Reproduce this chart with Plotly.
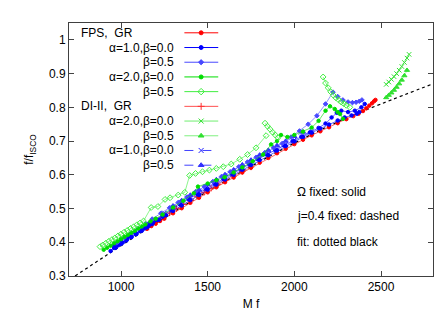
import plotly.graph_objects as go

# ---------------- data ----------------
fit_mf = [735, 900, 1100, 1300, 1500, 1700, 1900, 2100, 2300, 2500, 2806]
fit_f = [0.300, 0.356, 0.423, 0.488, 0.551, 0.610, 0.667, 0.720, 0.768, 0.810, 0.871]

# FPS, GR (solid, red filled circles)
fps_gr_mf = [1150, 1175, 1200, 1225, 1250, 1300, 1350, 1400, 1450, 1500, 1550, 1600, 1650, 1700,
             1750, 1800, 1850, 1900, 1950, 2000, 2050, 2100, 2150, 2200, 2250, 2300, 2340, 2370,
             2396, 2415, 2432, 2448, 2460, 2468]
fps_gr_f = [0.440, 0.448, 0.455, 0.463, 0.470, 0.486, 0.501, 0.517, 0.532, 0.548, 0.563, 0.578,
            0.592, 0.607, 0.621, 0.636, 0.650, 0.664, 0.677, 0.691, 0.704, 0.717, 0.729, 0.741,
            0.753, 0.765, 0.774, 0.781, 0.789, 0.797, 0.805, 0.812, 0.818, 0.822]

# FPS, alpha=1, beta=0 (solid, blue filled circles) - three sequences
fps_a1b0_mf = [940, 970, 1000, 1030, 1060, 1090, 1120, 1150, 1180, 1220, 1260, 1300, 1350, 1400,
               1450, 1500, 1550, 1600, 1650, 1700, 1750, 1800, 1850, 1900, 1950, 2000, 2050, 2100,
               2150, 2200, 2250, 2290, 2330, 2360, 2375, None,
               960, 985, 1010, 1035, 1060, 1085, 1110, 1135, 1160, 1185, 1210, 1240, None,
               960, 1000, 1040, 1080, 1120, 1160, 1200, 1240, 1290, 1340, 1390, 1440, 1490, 1540,
               1590, 1640, 1690, 1740, 1790, 1840, 1890, 1940, 1990, 2040, 2090, 2140, 2180, 2215,
               2245, 2271, 2310, 2349, 2387, 2406]
fps_a1b0_f = [0.374, 0.384, 0.395, 0.405, 0.415, 0.425, 0.434, 0.444, 0.454, 0.467, 0.480, 0.493,
              0.509, 0.525, 0.540, 0.556, 0.571, 0.586, 0.600, 0.615, 0.629, 0.644, 0.658, 0.672,
              0.685, 0.699, 0.712, 0.725, 0.737, 0.749, 0.761, 0.770, 0.776, 0.781, 0.786, None,
              0.383, 0.391, 0.399, 0.408, 0.416, 0.424, 0.433, 0.441, 0.449, 0.458, 0.466, 0.476, None,
              0.390, 0.403, 0.416, 0.429, 0.442, 0.455, 0.467, 0.480, 0.496, 0.512, 0.528, 0.543,
              0.558, 0.573, 0.588, 0.602, 0.617, 0.631, 0.646, 0.660, 0.673, 0.687, 0.700, 0.713,
              0.726, 0.739, 0.752, 0.770, 0.784, 0.790, 0.786, 0.790, 0.800, 0.810]

# FPS, alpha=1, beta=0.5 (solid, light blue diamonds)
fps_a1b5_mf = [980, 1020, 1060, 1100, 1140, 1180, 1230, 1280, 1330, 1380, 1430, 1480, 1530, 1580,
               1630, 1680, 1730, 1780, 1830, 1880, 1930, 1981, 2030, 2080, 2130, 2180, 2223, 2250,
               2280, 2310, 2335, 2356, 2375, 2390]
fps_a1b5_f = [0.400, 0.414, 0.428, 0.441, 0.455, 0.469, 0.486, 0.502, 0.518, 0.534, 0.550, 0.565,
              0.580, 0.595, 0.609, 0.624, 0.638, 0.652, 0.666, 0.680, 0.693, 0.712, 0.730, 0.750,
              0.775, 0.810, 0.845, 0.832, 0.822, 0.816, 0.814, 0.815, 0.818, 0.822]

# FPS, alpha=2, beta=0 (solid, green filled circles)
fps_a2b0_mf = [900, 920, 940, 960, 980, 1000, 1020, 1040, 1060, 1080, 1100, 1120, 1140, 1170, 1200,
               1240, 1300, 1360, 1420, 1444, 1500, 1550, 1598, 1650, 1700, 1760, 1820, 1866, 1900,
               1923, 1960, 2000, 2050, 2100, 2140, 2180, 2206, 2233, 2250, 2264, 2281]
fps_a2b0_f = [0.378, 0.384, 0.390, 0.397, 0.403, 0.409, 0.416, 0.422, 0.428, 0.434, 0.441, 0.447,
              0.453, 0.462, 0.470, 0.482, 0.503, 0.523, 0.545, 0.565, 0.574, 0.584, 0.593, 0.607,
              0.622, 0.640, 0.660, 0.690, 0.700, 0.718, 0.712, 0.718, 0.728, 0.740, 0.760, 0.790,
              0.803, 0.795, 0.786, 0.780, 0.766]

# FPS, alpha=2, beta=0.5 (solid, light green open diamonds)
fps_a2b5_mf = [879, 895, 912, 930, 948, 965, 983, 1000, 1018, 1036, 1055, 1073, 1092, 1110, 1130,
               1174, 1213, 1254, 1283, 1330, 1368, 1396, 1430, 1470, 1510, 1550, 1590, 1636, 1685,
               1730, 1779, 1837, None,
               1831, 1845, 1860, 1875, 1890, 1906, None,
               2166, 2180, 2195, 2210, 2225, 2240, 2255, 2270, 2285, 2300, 2320]
fps_a2b5_f = [0.387, 0.392, 0.397, 0.403, 0.408, 0.413, 0.419, 0.424, 0.430, 0.435, 0.441, 0.446,
              0.452, 0.457, 0.463, 0.503, 0.506, 0.527, 0.532, 0.540, 0.548, 0.598, 0.604, 0.609,
              0.614, 0.619, 0.624, 0.632, 0.646, 0.660, 0.680, 0.716, None,
              0.753, 0.744, 0.735, 0.726, 0.718, 0.710, None,
              0.890, 0.872, 0.858, 0.846, 0.836, 0.828, 0.822, 0.816, 0.811, 0.806, 0.800]

# DI-II, GR (solid, red plus)
di_gr_mf = [1160, 1200, 1240, 1280, 1320, 1360, 1400, 1440, 1480, 1520, 1560, 1600, 1650, 1700, 1750]
di_gr_f = [0.445, 0.460, 0.474, 0.487, 0.500, 0.512, 0.524, 0.536, 0.548, 0.560, 0.572, 0.583,
           0.596, 0.610, 0.623]

# DI-II, alpha=2, beta=0 (solid, green x)
di_a2b0_mf = [2530, 2545, 2560, 2575, 2590, 2605, 2620, 2635, 2650, 2662]
di_a2b0_f = [0.868, 0.875, 0.883, 0.891, 0.900, 0.910, 0.921, 0.933, 0.946, 0.957]

# DI-II, alpha=2, beta=0.5 (solid, green triangles)
di_a2b5_mf = [2530, 2545, 2560, 2575, 2590, 2605, 2620, 2635, 2650]
di_a2b5_f = [0.829, 0.836, 0.843, 0.851, 0.860, 0.870, 0.881, 0.894, 0.910]

# DI-II, alpha=1, beta=0 (dashed, blue x)
di_a1b0_mf = [1250, 1300, 1350, 1400, 1450, 1500, 1550, 1600, 1650, 1700, 1750, 1800, 1850, 1900,
              1950, 2000, 2050, 2100]
di_a1b0_f = [0.487, 0.503, 0.519, 0.534, 0.549, 0.565, 0.580, 0.594, 0.608, 0.622, 0.636, 0.650,
             0.664, 0.678, 0.691, 0.704, 0.717, 0.730]

# DI-II, alpha=1, beta=0.5 (dashed, blue triangles)
di_a1b5_mf = [1300, 1350, 1400, 1450, 1500, 1550, 1600, 1650, 1700, 1750, 1800, 1850, 1900, 1950,
              2000, 2050]
di_a1b5_f = [0.508, 0.524, 0.540, 0.555, 0.571, 0.586, 0.601, 0.615, 0.630, 0.644, 0.659, 0.673,
             0.687, 0.700, 0.714, 0.727]

legend_labels = ["FPS,  GR", "α=1.0,β=0.0", "β=0.5", "α=2.0,β=0.0", "β=0.5",
                 "DI-II,  GR", "α=2.0,β=0.0", "β=0.5", "α=1.0,β=0.0", "β=0.5"]

x_ticks = [1000, 1500, 2000, 2500]
y_ticks = [0.3, 0.4, 0.5, 0.6, 0.7, 0.8, 0.9, 1.0]
y_ticktext = ["0.3", "0.4", "0.5", "0.6", "0.7", "0.8", "0.9", "1"]

# ---------------- styles ----------------
styles = [
    dict(color="#ff0000", symbol="circle", size=4, dash="solid", lc="#ff0000"),
    dict(color="#0000ff", symbol="circle", size=4, dash="solid", lc="#0000ff"),
    dict(color="#4848ff", symbol="diamond", size=4, dash="solid", lc="#4848ff"),
    dict(color="#00dd00", symbol="circle", size=4, dash="solid", lc="#00dd00"),
    dict(color="#40ee40", symbol="diamond-open", size=5, dash="solid", lc="#40ee40"),
    dict(color="#ff3030", symbol="cross-thin-open", size=5, dash="solid", lc="#ff5050"),
    dict(color="#30e030", symbol="x-thin-open", size=5, dash="solid", lc="#70ee70"),
    dict(color="#30e030", symbol="triangle-up", size=5, dash="solid", lc="#80f080"),
    dict(color="#2020ff", symbol="x-thin-open", size=5, dash="dash", lc="#4040ff"),
    dict(color="#3030ff", symbol="triangle-up", size=5, dash="dash", lc="#4040ff"),
]

series = [
    (fps_gr_mf, fps_gr_f), (fps_a1b0_mf, fps_a1b0_f), (fps_a1b5_mf, fps_a1b5_f),
    (fps_a2b0_mf, fps_a2b0_f), (fps_a2b5_mf, fps_a2b5_f), (di_gr_mf, di_gr_f),
    (di_a2b0_mf, di_a2b0_f), (di_a2b5_mf, di_a2b5_f), (di_a1b0_mf, di_a1b0_f),
    (di_a1b5_mf, di_a1b5_f),
]

fig = go.Figure()

fig.add_trace(go.Scatter(x=fit_mf, y=fit_f, mode="lines",
                         line=dict(color="black", width=1.2, dash="dot", shape="spline"),
                         showlegend=False, hoverinfo="skip"))

draw_order = [8, 9, 5, 0, 1, 2, 3, 4, 6, 7]
for i in draw_order:
    xs, ys = series[i]
    st = styles[i]
    fig.add_trace(go.Scatter(
        x=xs, y=ys, mode="lines+markers", name=legend_labels[i],
        line=dict(color=st["lc"], width=0.6, dash="dot" if st["dash"] == "dash" else "solid"),
        marker=dict(color=st["color"], symbol=st["symbol"], size=st["size"] - 0.5,
                    line=dict(color=st["color"], width=1)),
        showlegend=False, hoverinfo="skip", xaxis="x", yaxis="y"))

# -------- custom gnuplot-style key (overlay axes spanning the plot area) --------
row_y = [25, 40, 55, 70, 85, 100, 115, 130, 145, 160]   # pixel rows of key entries
ymin_px, ymax_px = 15, 273
plot_h = ymax_px - ymin_px
for k in range(10):
    st = styles[k]
    yk = 1 - (row_y[k] - ymin_px) / plot_h
    fig.add_trace(go.Scatter(
        x=[0.317, 0.41], y=[yk, yk], mode="lines", xaxis="x2", yaxis="y2",
        line=dict(color=st["lc"], width=1, dash="dash" if st["dash"] == "dash" else "solid"),
        showlegend=False, hoverinfo="skip"))
    fig.add_trace(go.Scatter(
        x=[0.363], y=[yk], mode="markers", xaxis="x2", yaxis="y2",
        marker=dict(color=st["color"], symbol=st["symbol"], size=st["size"],
                    line=dict(color=st["color"], width=1)),
        showlegend=False, hoverinfo="skip"))
    if k in (0, 5):
        fig.add_annotation(x=0.027, y=yk, xref="x2", yref="y2", text=legend_labels[k],
                           showarrow=False, xanchor="left", yanchor="middle",
                           font=dict(size=12, color="black"))
    else:
        fig.add_annotation(x=0.295, y=yk, xref="x2", yref="y2", text=legend_labels[k],
                           showarrow=False, xanchor="right", yanchor="middle",
                           font=dict(size=12, color="black"))

notes = ["Ω fixed: solid", "j=0.4 fixed: dashed", "fit: dotted black"]
note_rows = [187, 212, 238]
for t, r in zip(notes, note_rows):
    fig.add_annotation(x=0.62, y=1 - (r - ymin_px) / plot_h, xref="x2", yref="y2", text=t,
                       showarrow=False, xanchor="left", yanchor="middle",
                       font=dict(size=12, color="black"))

fig.update_layout(
    width=448, height=313,
    margin=dict(l=61, r=23, t=15, b=40),
    paper_bgcolor="white", plot_bgcolor="white",
    font=dict(family="Liberation Sans, Arial, sans-serif", size=12, color="black"),
    xaxis=dict(range=[700, 2800], tickvals=x_ticks, ticks="inside", ticklen=5, mirror="ticks",
               showline=True, linecolor="#404040", linewidth=1, showgrid=False, zeroline=False,
               title=dict(text="M f", standoff=6, font=dict(size=12)), tickfont=dict(size=12)),
    yaxis=dict(range=[0.3, 1.05], tickvals=y_ticks, ticktext=y_ticktext, ticks="inside", ticklen=5,
               mirror="ticks", showline=True, linecolor="#404040", linewidth=1, showgrid=False,
               zeroline=False, title=dict(text="f/f<sub>ISCO</sub>", standoff=12, font=dict(size=12)),
               tickfont=dict(size=12)),
    xaxis2=dict(range=[0, 1], overlaying="x", visible=False, fixedrange=True),
    yaxis2=dict(range=[0, 1], overlaying="y", visible=False, fixedrange=True),
    showlegend=False,
)

fig.write_html("out.html")
